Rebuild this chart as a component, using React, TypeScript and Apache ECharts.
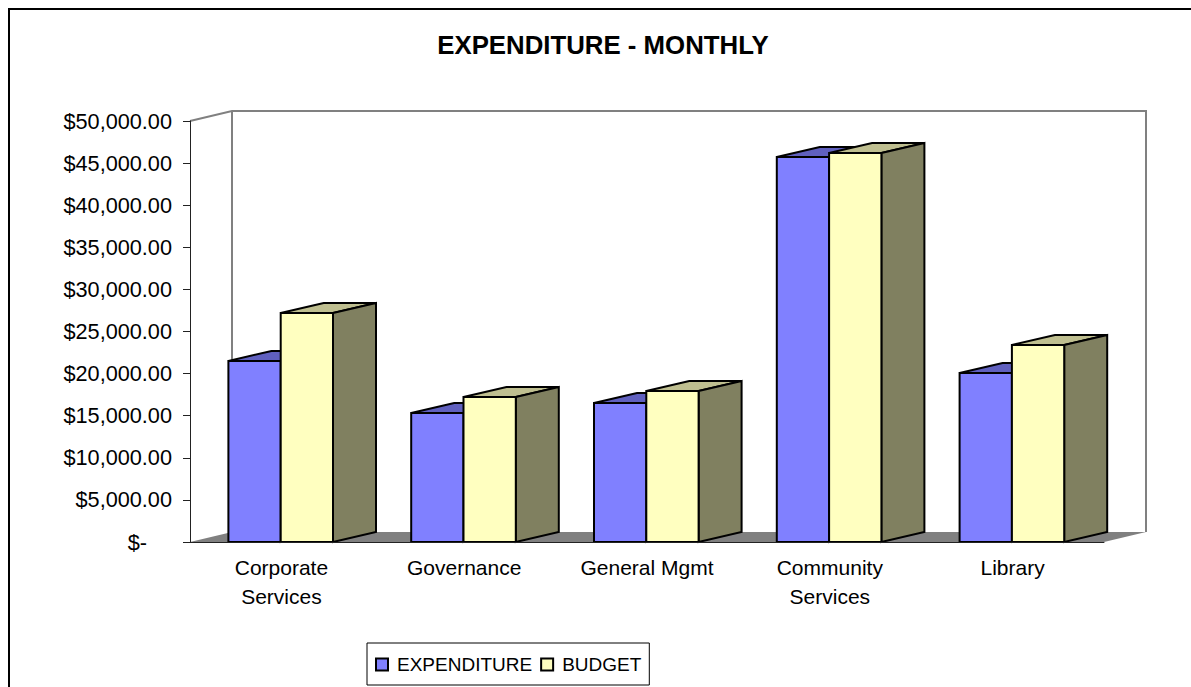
import React, { useEffect, useRef } from "react";
import * as echarts from "echarts";

const categories = ["Corporate\nServices", "Governance", "General Mgmt", "Community\nServices", "Library"];
const expenditure = [21500, 15320, 16510, 45720, 20070];
const budget = [27200, 17220, 17930, 46200, 23400];
const yMax = 50000;
const yStep = 5000;
const FONT = '"Liberation Sans", Arial, sans-serif';
const WALL_DX = 42;
const DX = 43;
const DY = -10;
const BAR = 52.3;

function boxItem(params: any, api: any, offset: number, front: string, top: string, side: string) {
  const p = api.coord([api.value(0), api.value(1)]);
  const base = api.coord([api.value(0), 0]);
  const x0 = p[0] + offset;
  const x1 = x0 + BAR;
  const yT = p[1];
  const yB = base[1];
  const style = (fill: string) => ({ fill, stroke: "#000", lineWidth: 2, lineJoin: "miter" });
  return {
    type: "group",
    children: [
      { type: "polygon", shape: { points: [[x0, yT], [x0 + DX, yT + DY], [x1 + DX, yT + DY], [x1, yT]] }, style: style(top) },
      { type: "polygon", shape: { points: [[x1, yT], [x1 + DX, yT + DY], [x1 + DX, yB + DY], [x1, yB]] }, style: style(side) },
      { type: "rect", shape: { x: x0, y: yT, width: BAR, height: yB - yT }, style: style(front) },
    ],
  };
}

function backdrop(params: any) {
  const { x, y, width, height } = params.coordSys;
  const b = y + height;
  const wall = { fill: "none", stroke: "#808080", lineWidth: 2 };
  return {
    type: "group",
    children: [
      { type: "polygon", shape: { points: [[x, b], [x + WALL_DX, b + DY], [x + width + WALL_DX, b + DY], [x + width, b]] }, style: { fill: "#808080" } },
      { type: "polyline", shape: { points: [[x, y], [x + WALL_DX, y + DY], [x + width + WALL_DX, y + DY], [x + width + WALL_DX, b + DY]] }, style: wall },
      { type: "line", shape: { x1: x + WALL_DX, y1: y + DY, x2: x + WALL_DX, y2: b + DY }, style: wall },
    ],
  };
}

function money(v: number) {
  if (v === 0) return "{dash|$-}";
  return "$" + v.toLocaleString("en-US", { minimumFractionDigits: 2 });
}

export default function App() {
  const ref = useRef<HTMLDivElement>(null);
  useEffect(() => {
    document.body.style.margin = "0";
    const chart = echarts.init(ref.current!, undefined, { renderer: "svg" });
    chart.setOption({
      animation: false,
      backgroundColor: "#fff",
      title: {
        text: "EXPENDITURE - MONTHLY",
        left: 598,
        top: 27,
        textAlign: "center",
        textStyle: { fontFamily: FONT, fontSize: 25.8, fontWeight: "bold", color: "#000" },
      },
      grid: { left: 190, top: 121, width: 914, height: 421, containLabel: false },
      xAxis: {
        type: "category",
        data: categories,
        z: 3,
        axisLine: { lineStyle: { color: "#222", width: 1 } },
        axisTick: { length: 7, lineStyle: { color: "#222" } },
        axisLabel: { fontFamily: FONT, fontSize: 21, color: "#000", margin: 11, lineHeight: 29, interval: 0 },
      },
      yAxis: {
        type: "value",
        min: 0,
        max: yMax,
        interval: yStep,
        z: 3,
        splitLine: { show: false },
        axisLine: { show: true, lineStyle: { color: "#222", width: 1 } },
        axisTick: { show: true, length: 7, lineStyle: { color: "#222" } },
        axisLabel: {
          fontFamily: FONT,
          fontSize: 21.7,
          color: "#000",
          margin: 18,
          formatter: money,
          rich: { dash: { fontFamily: FONT, fontSize: 21.7, color: "#000", padding: [0, 25, 0, 0] } },
        },
      },
      legend: {
        left: 367,
        top: 643,
        data: [
          { name: "EXPENDITURE", icon: "rect" },
          { name: "BUDGET", icon: "rect" },
        ],
        orient: "horizontal",
        padding: [12, 8, 11, 8],
        itemGap: 8,
        itemWidth: 12,
        itemHeight: 12,
        borderColor: "#000",
        borderWidth: 1,
        backgroundColor: "#fff",
        textStyle: { fontFamily: FONT, fontSize: 19, color: "#000", padding: [0, 0, 0, 4] },
      },
      series: [
        {
          type: "custom",
          name: "wall",
          z: 1,
          silent: true,
          data: [[0, 0]],
          renderItem: backdrop,
        },
        {
          type: "custom",
          name: "EXPENDITURE",
          z: 2,
          encode: { x: 0, y: 1 },
          itemStyle: { color: "#8080FF", borderColor: "#000", borderWidth: 1 },
          data: expenditure.map((v, i) => [i, v]),
          renderItem: (p: any, api: any) => boxItem(p, api, -53, "#8080FF", "#6060BF", "#505090"),
        },
        {
          type: "custom",
          name: "BUDGET",
          z: 2,
          encode: { x: 0, y: 1 },
          itemStyle: { color: "#FFFFC0", borderColor: "#000", borderWidth: 1 },
          data: budget.map((v, i) => [i, v]),
          renderItem: (p: any, api: any) => boxItem(p, api, -0.7, "#FFFFC0", "#BFBF90", "#808060"),
        },
      ],
      graphic: [
        { type: "polyline", silent: true, shape: { points: [[9, 687], [9, 9], [1191, 9]] }, style: { fill: "none", stroke: "#000", lineWidth: 2 } },
      ],
    });
    return () => chart.dispose();
  }, []);
  return <div ref={ref} style={{ position: "fixed", left: 0, top: 0, width: 1191, height: 687 }} />;
}
